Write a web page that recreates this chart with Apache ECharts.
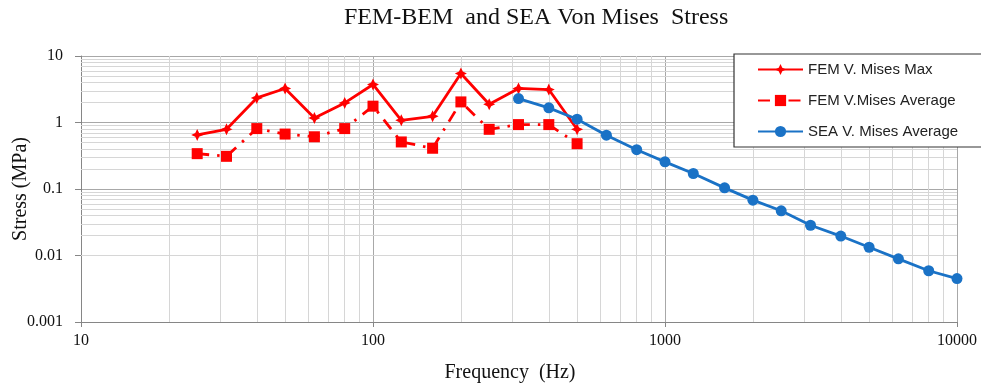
<!DOCTYPE html>
<html>
<head>
<meta charset="utf-8">
<script src="https://cdn.jsdelivr.net/npm/echarts@6/dist/echarts.min.js"></script>
<style>
html,body{margin:0;padding:0;background:#fff;}
#chart{width:981px;height:383px;}
</style>
</head>
<body>
<div id="chart"></div>
<script>
// ---- data ----
const titleText = 'FEM-BEM  and SEA Von Mises  Stress';
const xName = 'Frequency  (Hz)';
const yName = 'Stress (MPa)';
const seriesNames = ['FEM V. Mises Max', 'FEM V.Mises Average', 'SEA V. Mises Average'];

const freqFEM = [25, 31.5, 40, 50, 63, 80, 100, 125, 160, 200, 250, 315, 400, 500];
const femMax  = [0.65, 0.79, 2.34, 3.25, 1.17, 1.97, 3.73, 1.08, 1.24, 5.46, 1.88, 3.25, 3.13, 0.79];
const femAvg  = [0.34, 0.31, 0.81, 0.67, 0.61, 0.81, 1.76, 0.51, 0.41, 2.04, 0.79, 0.93, 0.93, 0.48];

const freqSEA = [315, 400, 500, 630, 800, 1000, 1250, 1600, 2000, 2500, 3150, 4000, 5000, 6300, 8000, 10000];
const seaAvg  = [2.29, 1.66, 1.12, 0.645, 0.39, 0.256, 0.171, 0.104, 0.068, 0.047, 0.0285, 0.0196, 0.0133, 0.0089, 0.0059, 0.0045];

const xMin = 10, xMax = 10000;
const yMin = 0.001, yMax = 10;
const xMinorTicks = [20,30,40,50,60,70,80,90,200,300,400,500,600,700,800,900,2000,3000,4000,5000,6000,7000,8000,9000];
const yMinorTicks = [0.002,0.003,0.004,0.005,0.006,0.007,0.008,0.009,0.02,0.03,0.04,0.05,0.06,0.07,0.08,0.09,0.2,0.3,0.4,0.5,0.6,0.7,0.8,0.9,2,3,4,5,6,7,8,9];

// ---- chart ----
const zip = (xs, ys) => xs.map((x, i) => [x, ys[i]]);
const fmt = v => String(+(+v).toPrecision(3));
const serif = '"Liberation Serif", "Times New Roman", serif';
const red = '#ff0000', blue = '#1a72c6';
const majorGrid = '#a8a8a8', minorGrid = '#d6d6d6', axisCol = '#868686';
const star = 'path://M0,-10 L3.2,-3.2 L10,0 L3.2,3.2 L0,10 L-3.2,3.2 L-10,0 L-3.2,-3.2 Z';

const chart = echarts.init(document.getElementById('chart'), null, {renderer: 'canvas'});
chart.setOption({
  animation: false,
  backgroundColor: '#fff',
  title: {
    text: titleText,
    left: 344, top: 6, padding: 0,
    textStyle: {fontFamily: serif, fontSize: 24, fontWeight: 'normal', color: '#111'}
  },
  grid: {left: 81, right: 24, top: 56, bottom: 61, containLabel: false, outerBoundsMode: 'none'},
  legend: {
    orient: 'vertical',
    left: 734, top: 54, z: 10,
    padding: [8, 40, 8, 23],
    itemGap: 16, itemWidth: 45, itemHeight: 14,
    backgroundColor: '#fff',
    borderColor: '#333', borderWidth: 1.2,
    data: seriesNames,
    textStyle: {fontFamily: '"Liberation Sans", Arial, sans-serif', fontSize: 15, color: '#222'}
  },
  xAxis: {
    type: 'log', logBase: 10, min: xMin, max: xMax,
    name: xName, nameLocation: 'middle', nameGap: 41,
    nameTextStyle: {fontFamily: serif, fontSize: 20, color: '#111', padding: [0, 18, 0, 0]},
    axisLine: {show: true, lineStyle: {color: axisCol, width: 1}},
    axisTick: {show: true, inside: false, length: 5, lineStyle: {color: axisCol}},
    axisLabel: {fontFamily: serif, fontSize: 16, color: '#111', margin: 11, formatter: fmt},
    splitLine: {show: true, lineStyle: {color: majorGrid, width: 1}},
    minorTick: {show: false}, minorSplitLine: {show: false}
  },
  yAxis: {
    type: 'log', logBase: 10, min: yMin, max: yMax,
    name: yName, nameLocation: 'middle', nameGap: 50, nameRotate: 90, nameMoveOverlap: false,
    nameTextStyle: {fontFamily: serif, fontSize: 20, color: '#111'},
    axisLine: {show: true, lineStyle: {color: axisCol, width: 1}},
    axisTick: {show: true, inside: false, length: 6, lineStyle: {color: axisCol}},
    axisLabel: {fontFamily: serif, fontSize: 16, color: '#111', margin: 18, formatter: fmt},
    splitLine: {show: true, lineStyle: {color: majorGrid, width: 1}},
    minorTick: {show: false}, minorSplitLine: {show: false}
  },
  series: [
    {
      name: '_grid', type: 'line', data: [], silent: true, z: 1,
      markLine: {
        silent: true, symbol: 'none', animation: false, z: 1,
        label: {show: false},
        lineStyle: {color: minorGrid, width: 1, type: 'solid'},
        emphasis: {disabled: true},
        data: xMinorTicks.map(v => ({xAxis: v})).concat(yMinorTicks.map(v => ({yAxis: v})))
      }
    },
    {
      name: seriesNames[0], type: 'line', z: 3,
      data: zip(freqFEM, femMax),
      symbol: star, symbolSize: 12,
      itemStyle: {color: red},
      lineStyle: {color: red, width: 2.8}
    },
    {
      name: seriesNames[1], type: 'line', z: 3,
      data: zip(freqFEM, femAvg),
      symbol: 'rect', symbolSize: 11,
      itemStyle: {color: red},
      lineStyle: {color: red, width: 2.8, type: [12, 8, 2.5, 8]}
    },
    {
      name: seriesNames[2], type: 'line', z: 4,
      data: zip(freqSEA, seaAvg),
      symbol: 'circle', symbolSize: 11,
      itemStyle: {color: blue},
      lineStyle: {color: blue, width: 2.8}
    }
  ]
});
</script>
</body>
</html>
